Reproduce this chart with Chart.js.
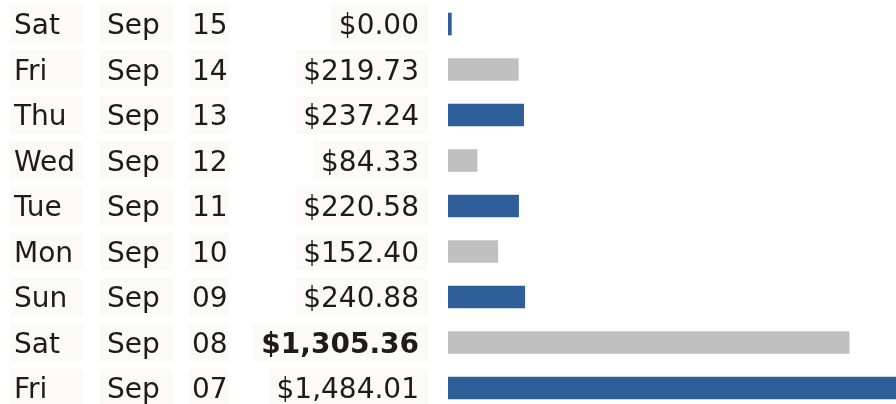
<!DOCTYPE html>
<html lang="en">
<head>
    <meta charset="UTF-8">
    <title>Daily totals</title>
    <script src="https://cdn.jsdelivr.net/npm/chart.js"></script>
    <style>
        html, body { margin: 0; padding: 0; background: #fff; }
        #wrap { width: 896px; height: 404px; }
    </style>
</head>
<body>
    <div id="wrap"><canvas id="sales-chart" width="896" height="404"></canvas></div>

    <script>
        // row data, top to bottom
        const days = ['Sat', 'Fri', 'Thu', 'Wed', 'Tue', 'Mon', 'Sun', 'Sat', 'Fri'];
        const months = ['Sep', 'Sep', 'Sep', 'Sep', 'Sep', 'Sep', 'Sep', 'Sep', 'Sep'];
        const dates = ['15', '14', '13', '12', '11', '10', '09', '08', '07'];
        const amounts = [0, 219.73, 237.24, 84.33, 220.58, 152.40, 240.88, 1305.36, 1484.01];
        const boldRows = [false, false, false, false, false, false, false, true, false];

        const blue = '#2e5f98';
        const grey = '#c0c0c0';
        const fontFamily = '"DejaVu Sans", Verdana, sans-serif';

        function money(v) {
            return '$' + v.toLocaleString('en-US', { minimumFractionDigits: 2, maximumFractionDigits: 2 });
        }

        // draws the text columns next to the bars
        const tableColumns = {
            id: 'tableColumns',
            beforeDatasetsDraw(chart) {
                const ctx = chart.ctx;
                const yScale = chart.scales.y;
                ctx.save();
                days.forEach((d, i) => {
                    const y = yScale.getPixelForValue(i);
                    const amountText = money(amounts[i]);
                    ctx.font = (boldRows[i] ? 'bold ' : '') + '28px ' + fontFamily;
                    const aw = ctx.measureText(amountText).width;

                    // very faint cell backgrounds
                    ctx.fillStyle = '#fbfaf8';
                    ctx.fillRect(10, y - 19, 73, 38);
                    ctx.fillRect(100, y - 19, 73, 38);
                    ctx.fillRect(189, y - 19, 40, 38);
                    ctx.fillRect(419 - aw - 8, y - 19, aw + 17, 38);

                    ctx.fillStyle = '#1c1c1c';
                    ctx.textBaseline = 'alphabetic';
                    ctx.textAlign = 'right';
                    ctx.fillText(amountText, 419, y + 10);

                    ctx.font = '28px ' + fontFamily;
                    ctx.textAlign = 'left';
                    ctx.fillText(d, 14, y + 10);
                    ctx.fillText(months[i], 107, y + 10);
                    ctx.fillText(dates[i], 192, y + 10);
                });
                ctx.restore();
            }
        };

        const ctx = document.getElementById('sales-chart').getContext('2d');
        new Chart(ctx, {
            type: 'bar',
            data: {
                labels: dates,
                datasets: [{
                    data: amounts,
                    base: -11,
                    backgroundColor: amounts.map((v, i) => i % 2 === 0 ? blue : grey),
                    borderWidth: 0,
                    barThickness: 22,
                    clip: { left: 0, top: 30, right: 0, bottom: 30 }
                }]
            },
            options: {
                indexAxis: 'y',
                responsive: false,
                animation: false,
                layout: { padding: { left: 448, top: 24, right: 0, bottom: 16 } },
                plugins: {
                    legend: { display: false },
                    tooltip: { enabled: false }
                },
                scales: {
                    x: { display: false, min: -11, max: 1459 },
                    y: { display: false, offset: false }
                }
            },
            plugins: [tableColumns]
        });
    </script>
</body>
</html>
